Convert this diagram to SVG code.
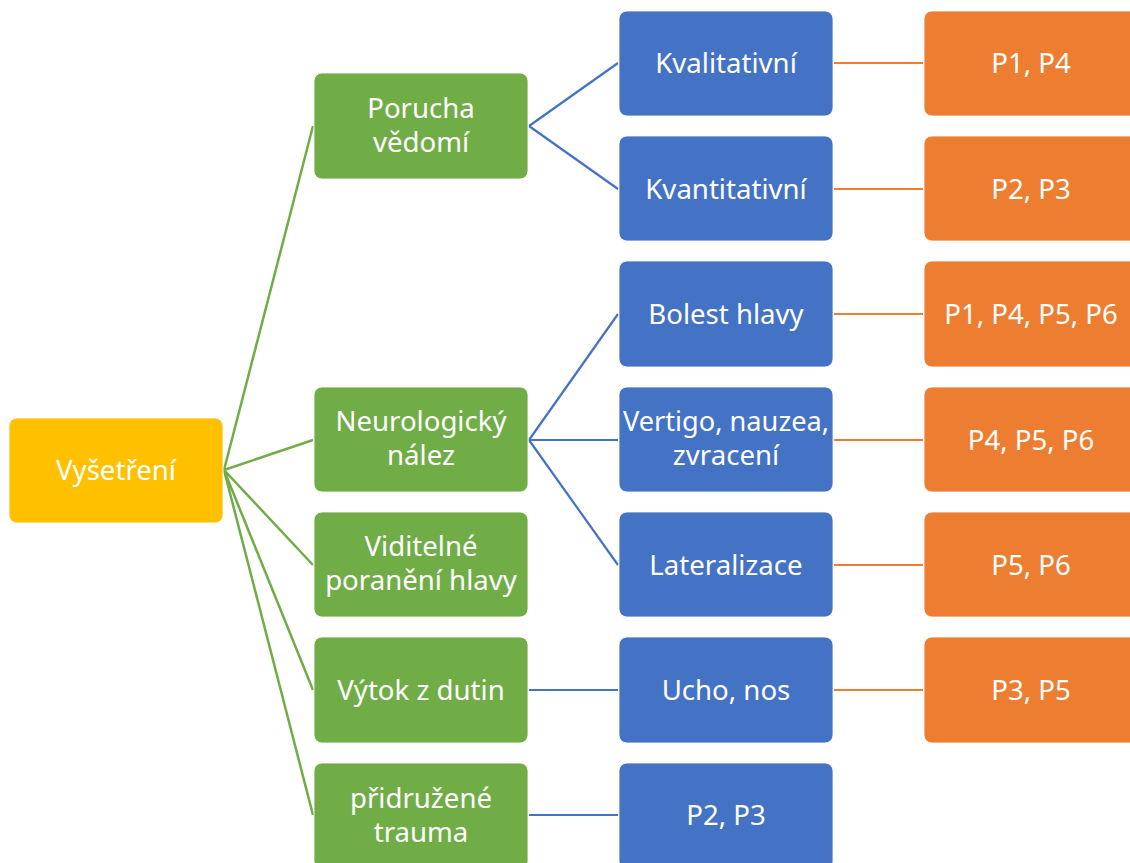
<svg xmlns="http://www.w3.org/2000/svg" width="1130" height="863" viewBox="0 0 1130 863">
<style>
.box{stroke:#ffffff;stroke-width:1;stroke-opacity:0.8}
.y{fill:#FFC000}.g{fill:#70AD47}.b{fill:#4472C4}.o{fill:#ED7D31}
text{font-family:"Noto Sans","Open Sans","DejaVu Sans",sans-serif;font-size:27.6px;fill:#ffffff;text-anchor:middle}
.cg{stroke:#70AD47;stroke-width:2.5;fill:none}
.cb{stroke:#4472C4;stroke-width:2.2;fill:none}
.co{stroke:#ED7D31;stroke-width:2.2;fill:none}
</style>
<rect width="1130" height="863" fill="#ffffff"/>
<g id="connectors">
<path class="cg" d="M224,470 L313,126 M224,470 L313,440 M224,470 L313,565 M224,470 L313,690 M224,470 L313,815"/>
<path class="cb" d="M529,126 L618,63 M529,126 L618,189 M529,440 L618,314 M529,440 L618,440 M529,440 L618,565 M529,690 L618,690 M529,815 L618,815"/>
<path class="co" d="M834,63 L923,63 M834,189 L923,189 M834,314 L923,314 M834,440 L923,440 M834,565 L923,565 M834,690 L923,690"/>
</g>
<g id="vysetreni"><rect class="box y" x="9" y="418" width="214" height="105" rx="8"/><text x="116" y="480">Vyšetření</text></g>
<g id="porucha"><rect class="box g" x="314" y="73" width="214" height="106" rx="8"/><text x="421" y="118">Porucha</text><text x="421" y="152">vědomí</text></g>
<g id="neuro"><rect class="box g" x="314" y="387" width="214" height="105" rx="8"/><text x="421" y="431">Neurologický</text><text x="421" y="465">nález</text></g>
<g id="viditelne"><rect class="box g" x="314" y="512" width="214" height="105" rx="8"/><text x="421" y="556">Viditelné</text><text x="421" y="590">poranění hlavy</text></g>
<g id="vytok"><rect class="box g" x="314" y="637" width="214" height="106" rx="8"/><text x="421" y="700">Výtok z dutin</text></g>
<g id="pridruzene"><rect class="box g" x="314" y="763" width="214" height="106" rx="8"/><text x="421" y="808">přidružené</text><text x="421" y="842">trauma</text></g>
<g id="kvalitativni"><rect class="box b" x="619" y="11" width="214" height="105" rx="8"/><text x="726" y="73">Kvalitativní</text></g>
<g id="kvantitativni"><rect class="box b" x="619" y="136" width="214" height="105" rx="8"/><text x="726" y="199">Kvantitativní</text></g>
<g id="bolest"><rect class="box b" x="619" y="261" width="214" height="106" rx="8"/><text x="726" y="324">Bolest hlavy</text></g>
<g id="vertigo"><rect class="box b" x="619" y="387" width="214" height="105" rx="8"/><text x="726" y="431" textLength="206" lengthAdjust="spacingAndGlyphs">Vertigo, nauzea,</text><text x="726" y="465">zvracení</text></g>
<g id="lateralizace"><rect class="box b" x="619" y="512" width="214" height="105" rx="8"/><text x="726" y="575">Lateralizace</text></g>
<g id="ucho"><rect class="box b" x="619" y="637" width="214" height="106" rx="8"/><text x="726" y="700">Ucho, nos</text></g>
<g id="p2p3b"><rect class="box b" x="619" y="763" width="214" height="106" rx="8"/><text x="726" y="825">P2, P3</text></g>
<g id="o1"><rect class="box o" x="924" y="11" width="214" height="105" rx="8"/><text x="1031" y="73">P1, P4</text></g>
<g id="o2"><rect class="box o" x="924" y="136" width="214" height="105" rx="8"/><text x="1031" y="199">P2, P3</text></g>
<g id="o3"><rect class="box o" x="924" y="261" width="214" height="106" rx="8"/><text x="1031" y="324">P1, P4, P5, P6</text></g>
<g id="o4"><rect class="box o" x="924" y="387" width="214" height="105" rx="8"/><text x="1031" y="450">P4, P5, P6</text></g>
<g id="o5"><rect class="box o" x="924" y="512" width="214" height="105" rx="8"/><text x="1031" y="575">P5, P6</text></g>
<g id="o6"><rect class="box o" x="924" y="637" width="214" height="106" rx="8"/><text x="1031" y="700">P3, P5</text></g>
</svg>
